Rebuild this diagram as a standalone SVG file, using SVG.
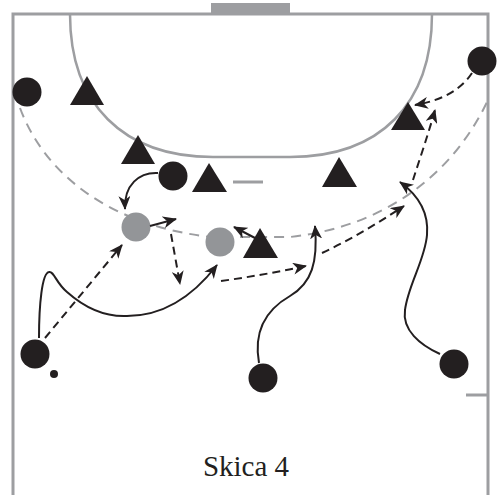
<svg xmlns="http://www.w3.org/2000/svg" width="497" height="495" viewBox="0 0 497 495">
  <style>
    .court { fill: none; stroke: #9d9ea1; stroke-width: 3; }
    .area { fill: none; stroke: #9d9ea1; stroke-width: 2.5; }
    .nine { fill: none; stroke: #9d9ea1; stroke-width: 2; stroke-dasharray: 10 7; }
    .att { fill: #231f20; }
    .def { fill: #231f20; }
    .mate { fill: #939598; }
    .run { fill: none; stroke: #231f20; stroke-width: 2; marker-end: url(#head); }
    .pass { fill: none; stroke: #231f20; stroke-width: 2; stroke-dasharray: 8 5; marker-end: url(#head); }
    .label { font-family: "Liberation Serif", "Times New Roman", serif; font-size: 29px; fill: #231f20; }
  </style>
  <defs>
    <marker id="head" markerUnits="userSpaceOnUse" markerWidth="14" markerHeight="12" viewBox="0 0 14 12" refX="13" refY="6" orient="auto">
      <path d="M0,0 L14,6 L0,12 L4,6 z" fill="#231f20"/>
    </marker>
  </defs>

  <rect width="497" height="495" fill="#ffffff"/>

  <!-- court -->
  <g id="court">
    <path class="court" d="M13,495 L13,14 L488,14 L488,495"/>
    <rect x="211" y="3" width="79" height="11" fill="#9d9ea1"/>
    <path class="area" d="M70,14 C70,104 123,157 213,157 L290,157 C380,157 432,104 432,14"/>
    <path class="nine" d="M20,108 C45,175 110,225 210,237 L290,237 C390,226 455,170 488,100"/>
    <line class="court" x1="233" y1="182" x2="263" y2="182"/>
    <line class="court" x1="466" y1="395" x2="488" y2="395"/>
  </g>

  <!-- defenders -->
  <g id="d1"><polygon class="def" points="87,76 104,105 70,105"/></g>
  <g id="d2"><polygon class="def" points="138,135 155,164 121,164"/></g>
  <g id="d3"><polygon class="def" points="209,163 227,192 192,192"/></g>
  <g id="d4"><polygon class="def" points="339,157 357,187 322,187"/></g>
  <g id="d5"><polygon class="def" points="408,102 425,130 391,130"/></g>
  <g id="d6"><polygon class="def" points="260,228 278,258 243,258"/></g>

  <!-- attackers -->
  <g id="a1"><circle class="att" cx="27" cy="92" r="14.5"/></g>
  <g id="a2"><circle class="att" cx="173" cy="176" r="14.5"/></g>
  <g id="a3"><circle class="att" cx="482" cy="61" r="14.5"/></g>
  <g id="a4"><circle class="att" cx="35" cy="354" r="14.5"/></g>
  <g id="ball"><circle class="att" cx="54" cy="374" r="4"/></g>
  <g id="a5"><circle class="att" cx="263" cy="378" r="14.5"/></g>
  <g id="a6"><circle class="att" cx="454" cy="364" r="14.5"/></g>
  <g id="m1"><circle class="mate" cx="136" cy="227" r="14.5"/></g>
  <g id="m2"><circle class="mate" cx="220" cy="242" r="14.5"/></g>

  <!-- movements and passes -->
  <g id="connectors">
    <path class="run" d="M158,173 C139,172 124,185 125,209"/>
    <path class="run" d="M39,338 C39,305 42,273 49,272 C54,271 56,283 67,292 C85,308 105,317 127,316 C160,316 190,300 217,265"/>
    <path class="run" d="M259,363 C254,335 262,312 290,296 C312,283 318,262 315,226"/>
    <path class="run" d="M440,354 C420,345 402,330 405,310 C408,285 425,260 427,235 C429,212 418,195 400,182"/>
    <path class="run" d="M150,226 L176,219"/>
    <path class="run" d="M255,238 L234,227"/>
    <path class="pass" d="M472,73 C462,88 445,100 415,105"/>
    <path class="pass" d="M413,180 C420,158 428,135 435,110"/>
    <path class="pass" d="M45,338 L122,245"/>
    <path class="pass" d="M171,234 L180,284"/>
    <path class="pass" d="M221,281 C250,277 278,272 306,266"/>
    <path class="pass" d="M322,253 C350,240 378,223 404,206"/>
  </g>

  <text class="label" x="246" y="476" text-anchor="middle">Skica 4</text>
</svg>
